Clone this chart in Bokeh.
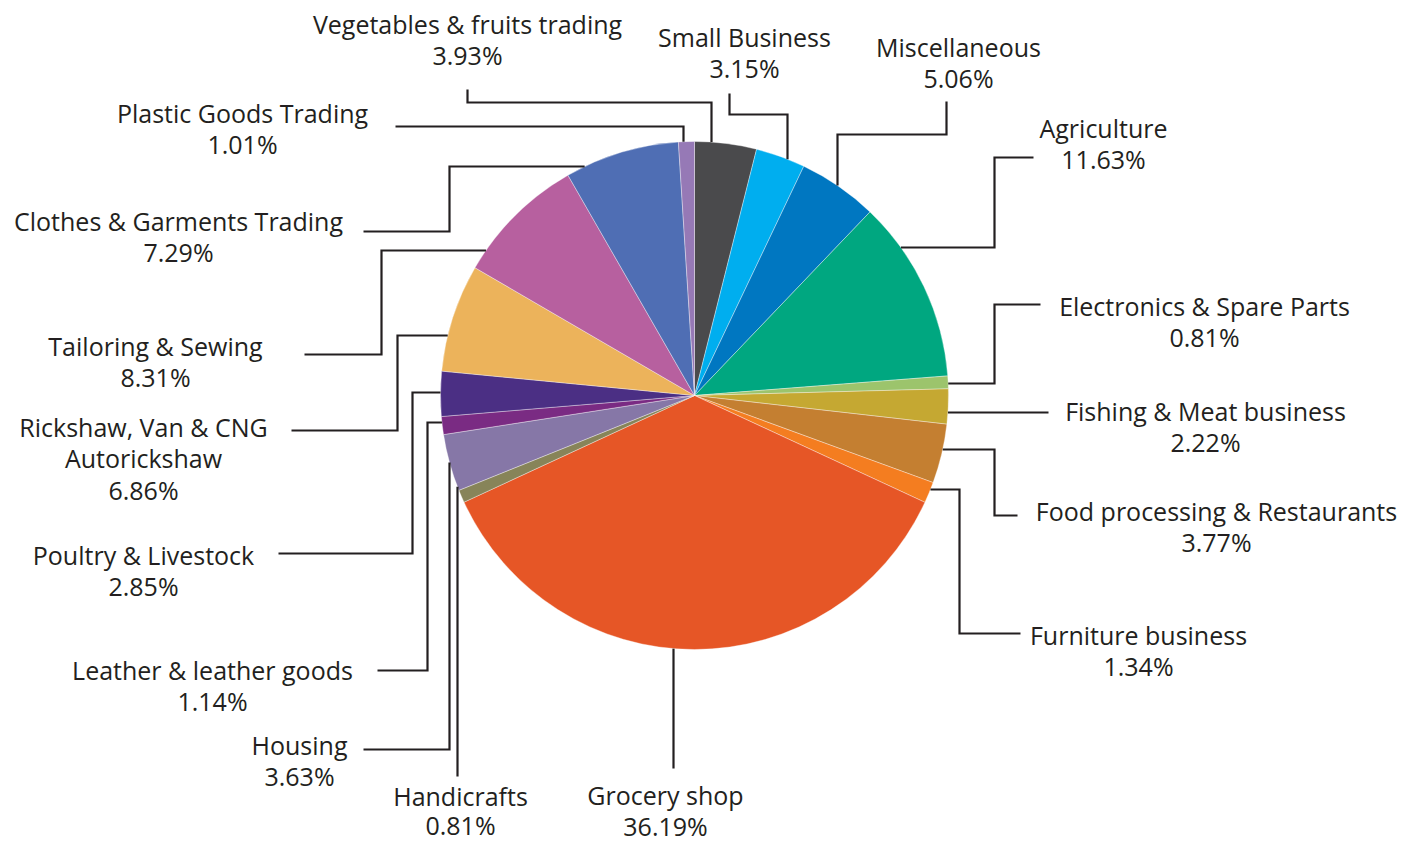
import numpy as np
from bokeh.plotting import figure
from bokeh.models import Range1d, ColumnDataSource
from bokeh.embed import file_html
from bokeh.resources import INLINE
from bokeh.core.properties import value

# ---------------- data ----------------
categories = [
    "Vegetables & fruits trading", "Small Business", "Miscellaneous", "Agriculture",
    "Electronics & Spare Parts", "Fishing & Meat business", "Food processing & Restaurants",
    "Furniture business", "Grocery shop", "Handicrafts", "Housing", "Leather & leather goods",
    "Poultry & Livestock", "Rickshaw, Van & CNG\nAutorickshaw", "Tailoring & Sewing",
    "Clothes & Garments Trading", "Plastic Goods Trading",
]
shares = [3.93, 3.15, 5.06, 11.63, 0.81, 2.22, 3.77, 1.34, 36.19, 0.81, 3.63, 1.14,
          2.85, 6.86, 8.31, 7.29, 1.01]
colors = ["#4a4a4c", "#00aeef", "#0077c1", "#00a780", "#9cc46c", "#c5a832", "#c47f31",
          "#f47d20", "#e65626", "#878459", "#8677a7", "#7a2b83", "#4b2f84", "#ecb35b",
          "#b7609f", "#4f6eb4", "#9679b6"]

# ---------------- layout (pixel coordinates, y downwards) ----------------
W, H = 1419, 846
CX, CY, R = 694, 395, 254
FONT = "Open Sans"
FONT_SIZE = "25px"
LINE_GAP = 31.5
INK = "#231f20"

label_pos = [(467, 23), (744, 36), (958, 46), (1103, 127), (1204, 305), (1205, 410),
             (1216, 510), (1138, 634), (665, 794), (460, 795), (299, 744), (212, 669),
             (143, 554), (143, 426), (155, 345), (178, 220), (242, 112)]
label_gap = [LINE_GAP] * 9 + [29.5] + [LINE_GAP] * 7

leaders = [
    ([(467, 89), (467, 102), (711, 102)], "down"),
    ([(729, 93), (729, 114), (787, 114)], "down"),
    ([(946, 101), (946, 134), (837, 134)], "down"),
    ([(1033, 157), (994, 157), (994, 247)], "left"),
    ([(1040, 304), (994, 304), (994, 383)], "left"),
    ([(1048, 412)], "left"),
    ([(1017, 515), (994, 515), (994, 449)], "left"),
    ([(1020, 633), (959, 633), (959, 489)], "left"),
    ([(673, 768)], "up"),
    ([(457, 776)], "up"),
    ([(363, 749), (449, 749)], "up"),
    ([(377, 670), (427, 670), (427, 422)], "right"),
    ([(278, 553), (412, 553), (412, 392)], "right"),
    ([(291, 430), (397, 430), (397, 335)], "right"),
    ([(304, 354), (381, 354), (381, 250)], "right"),
    ([(363, 231), (449, 231), (449, 166)], "right"),
    ([(395, 126), (683, 126)], "down"),
]


def Y(py):
    return H - py


# ---------------- figure ----------------
p = figure(width=W, height=H, x_range=Range1d(0, W), y_range=Range1d(0, H),
           output_backend="svg", toolbar_location=None, x_axis_type=None,
           y_axis_type=None, min_border=0)
p.grid.visible = False
p.outline_line_color = None
p.background_fill_color = "white"
p.border_fill_color = "white"

# wedges (clockwise from 12 o'clock)
frac = np.array(shares) / np.sum(shares)
cum_end = np.cumsum(frac)
cum_start = cum_end - frac
start_angle = np.pi / 2 - 2 * np.pi * cum_end
end_angle = np.pi / 2 - 2 * np.pi * cum_start
wsrc = ColumnDataSource(dict(start=start_angle, end=end_angle, color=colors,
                             cat=categories, share=shares))
p.wedge(x=CX, y=Y(CY), radius=R, start_angle="start", end_angle="end",
        direction="anticlock", fill_color="color", line_color="white",
        line_width=0.6, line_alpha=0.6, source=wsrc)

# leader lines
xs, ys = [], []
for pts, d in leaders:
    lx = [pt[0] for pt in pts]
    ly = [pt[1] for pt in pts]
    if d in ("down", "up"):
        x = lx[-1]
        dy = np.sqrt(R ** 2 - (x - CX) ** 2)
        y = CY - dy if d == "down" else CY + dy
    else:
        y = ly[-1]
        dx = np.sqrt(R ** 2 - (y - CY) ** 2)
        x = CX + dx if d == "left" else CX - dx
    lx.append(x)
    ly.append(y)
    xs.append(lx)
    ys.append([Y(v) for v in ly])
p.multi_line(xs=xs, ys=ys, line_color=INK, line_width=2.2, line_join="miter")

# labels
tx, ty, tt = [], [], []
for (x0, y0), gap, name, s in zip(label_pos, label_gap, categories, shares):
    lines = name.split("\n") + [f"{s:.2f}%"]
    for k, ln in enumerate(lines):
        tx.append(x0)
        ty.append(Y(y0 + k * gap))
        tt.append(ln)
p.text(x=tx, y=ty, text=tt, text_align="center", text_baseline="middle",
       text_font=value(FONT), text_font_size=FONT_SIZE, text_color=INK)

open("out.html", "w").write(file_html(p, INLINE))
